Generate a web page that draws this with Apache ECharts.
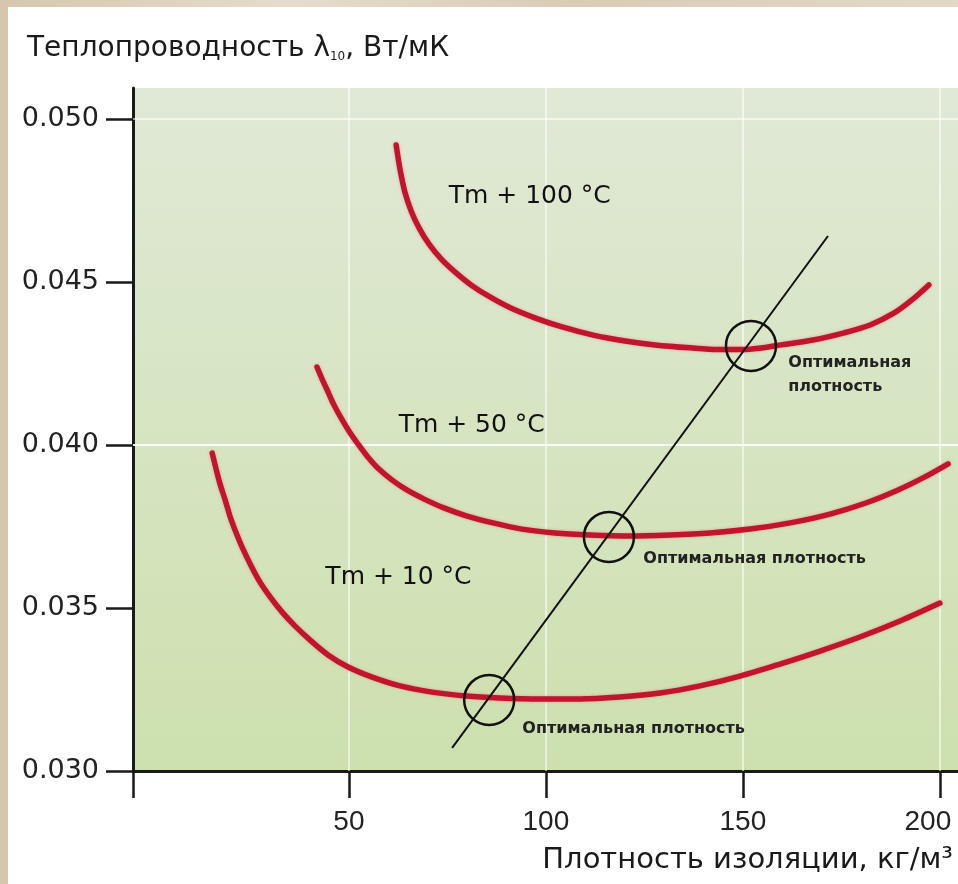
<!DOCTYPE html>
<html>
<head>
<meta charset="utf-8">
<script src="https://cdn.jsdelivr.net/npm/echarts@6/dist/echarts.min.js"></script>
<style>
  html, body { margin: 0; padding: 0; width: 958px; height: 884px; overflow: hidden;
    background: linear-gradient(90deg, #d6c6ae 0%, #e6dccd 30%, #d9cbb6 60%, #e3d8c8 100%); }
  #chart { position: absolute; left: 8px; top: 7px; width: 950px; height: 877px; background: #ffffff; }
</style>
</head>
<body>
<div id="chart"></div>
<script>
// ---- data ----
const xTicks = [50, 100, 150, 200];
const yTicks = [0.030, 0.035, 0.040, 0.045, 0.050];

const curve100X = [62.0, 63.0, 64.2, 65.8, 67.8, 70.3, 73.4, 76.9, 81.0, 85.8, 91.1, 97.2, 104.1, 112.0, 120.1, 127.7, 136.6, 143.7, 151.8, 159.7, 167.8, 175.7, 182.3, 188.4, 192.9, 197.2];
const curve100Y = [0.04920, 0.04844, 0.04776, 0.04718, 0.04666, 0.04617, 0.04571, 0.04531, 0.04491, 0.04454, 0.04420, 0.04390, 0.04362, 0.04337, 0.04319, 0.04307, 0.04298, 0.04293, 0.04294, 0.04307, 0.04322, 0.04344, 0.04368, 0.04405, 0.04445, 0.04491];

const curve50X = [41.9, 43.2, 44.7, 46.2, 48.0, 50.0, 52.3, 54.8, 57.6, 60.9, 64.7, 69.1, 74.1, 80.0, 86.6, 93.9, 102.3, 111.2, 121.3, 131.5, 141.6, 151.8, 162.0, 172.1, 181.2, 189.4, 196.2, 202.1];
const curve50Y = [0.04239, 0.04202, 0.04163, 0.04123, 0.04083, 0.04043, 0.04003, 0.03963, 0.03926, 0.03893, 0.03862, 0.03834, 0.03807, 0.03782, 0.03761, 0.03742, 0.03730, 0.03724, 0.03721, 0.03724, 0.03730, 0.03742, 0.03761, 0.03788, 0.03822, 0.03862, 0.03902, 0.03942];

const curve10X = [15.3, 16.3, 17.3, 18.6, 19.8, 21.3, 23.1, 25.2, 27.4, 30.0, 33.0, 36.3, 40.1, 44.7, 49.8, 55.9, 63.0, 71.1, 79.7, 88.3, 98.5, 108.7, 118.8, 129.0, 139.1, 149.3, 159.4, 169.6, 179.7, 189.9, 200.0];
const curve10Y = [0.03975, 0.03926, 0.03880, 0.03831, 0.03782, 0.03733, 0.03681, 0.03629, 0.03580, 0.03534, 0.03488, 0.03445, 0.03402, 0.03356, 0.03319, 0.03288, 0.03261, 0.03242, 0.03230, 0.03224, 0.03221, 0.03221, 0.03227, 0.03239, 0.03261, 0.03291, 0.03328, 0.03368, 0.03411, 0.03460, 0.03515];

const optimalLineX = [76.2, 171.6];
const optimalLineY = [0.03071, 0.04641];

const optimalX = [85.6, 116.0, 152.05];
const optimalY = [0.03218, 0.03718, 0.04304];

const curveLabels = ['Tm + 100 °C', 'Tm + 50 °C', 'Tm + 10 °C'];
const curveLabelX = [75.2, 62.5, 43.9];
const curveLabelY = [0.04761, 0.04061, 0.03592];

const noteLabels = ['Оптимальная\nплотность', 'Оптимальная плотность', 'Оптимальная плотность'];
const noteX = [161.4, 124.6, 93.9];
const noteY = [0.04215, 0.03650, 0.03129];

const yTitle = 'Теплопроводность λ';
const yTitleSub = '10';
const yTitleTail = ', Вт/мК';
const xTitle = 'Плотность изоляции, кг/м³';

// ---- helpers ----
const zip = (xs, ys) => xs.map((x, i) => [x, ys[i]]);
const FONT = 'DejaVu Sans';
const RED = '#c0152c';

const chart = echarts.init(document.getElementById('chart'), null, { renderer: 'canvas' });

const redLine = (name, xs, ys) => ({
  name, type: 'line', data: zip(xs, ys), smooth: 0.3, showSymbol: false, symbol: 'none',
  lineStyle: { color: RED, width: 5.5, cap: 'round', join: 'round', shadowColor: 'rgba(235,90,110,0.5)', shadowBlur: 3 },
  z: 3, silent: true
});

chart.setOption({
  animation: false,
  backgroundColor: '#ffffff',
  title: [
    {
      text: '{a|' + yTitle + '}{s|' + yTitleSub + '}{a|' + yTitleTail + '}',
      left: 14, top: 23,
      textStyle: {
        fontWeight: 'normal',
        rich: {
          a: { fontFamily: FONT, fontSize: 28, fontWeight: 'normal', color: '#1a1a1a' },
          s: { fontFamily: FONT, fontSize: 12, fontWeight: 'normal', color: '#1a1a1a', verticalAlign: 'bottom', padding: [16, 0, 0, 0] }
        }
      }
    },
    {
      text: xTitle, right: 0, top: 834,
      textStyle: { fontFamily: FONT, fontSize: 29, fontWeight: 'normal', color: '#1a1a1a' }
    }
  ],
  grid: {
    left: 125, top: 81, right: 0, bottom: 113, show: true, borderWidth: 0,
    outerBoundsMode: 'none', containLabel: false,
    backgroundColor: new echarts.graphic.LinearGradient(0, 0, 0, 1, [
      { offset: 0, color: '#e0e9d6' }, { offset: 1, color: '#cde0ae' }
    ])
  },
  xAxis: {
    type: 'value', min: -4.8, max: 204.6,
    axisLine: { show: true, onZero: false, lineStyle: { color: '#1a1a1a', width: 3 } },
    axisTick: { show: true, inside: false, length: 27, customValues: [-4.8].concat(xTicks), lineStyle: { color: '#1a1a1a', width: 2.5 } },
    axisLabel: {
      customValues: xTicks, margin: 37, fontFamily: 'Liberation Sans', fontSize: 28, color: '#222', hideOverlap: false,
      formatter: v => (v === xTicks[xTicks.length - 1] ? '{r|' + v + '}' : String(v)),
      rich: { r: { fontFamily: 'Liberation Sans', fontSize: 28, color: '#222', padding: [0, 24, 0, 0] } }
    },
    splitLine: { show: false }
  },
  yAxis: {
    type: 'value', min: 0.030, max: 0.05095,
    axisLine: { show: true, onZero: false, lineStyle: { color: '#1a1a1a', width: 3 } },
    axisTick: { show: true, inside: false, length: 27, customValues: yTicks, lineStyle: { color: '#1a1a1a', width: 2.5 } },
    axisLabel: { customValues: yTicks, margin: 34, fontFamily: FONT, fontSize: 27, color: '#222', formatter: v => v.toFixed(3) },
    splitLine: { show: false }
  },
  series: [
    {
      name: 'grid', type: 'line', data: [], z: 1, silent: true,
      markLine: {
        silent: true, symbol: 'none', animation: false, z: 1,
        label: { show: false },
        lineStyle: { color: 'rgba(255,255,255,0.55)', width: 2, type: 'solid' },
        data: xTicks.map(v => ({ xAxis: v })).concat(yTicks.slice(1).map(v => ({ yAxis: v })))
      }
    },
    redLine(curveLabels[0], curve100X, curve100Y),
    redLine(curveLabels[1], curve50X, curve50Y),
    redLine(curveLabels[2], curve10X, curve10Y),
    {
      name: 'optimum line', type: 'line', data: zip(optimalLineX, optimalLineY),
      showSymbol: false, symbol: 'none', silent: true, z: 4,
      lineStyle: { color: '#111', width: 2 }
    },
    {
      name: 'optimum', type: 'scatter', data: zip(optimalX, optimalY), symbol: 'circle', symbolSize: 50,
      silent: true, z: 5,
      itemStyle: { color: 'rgba(0,0,0,0)', borderColor: '#111', borderWidth: 2.5, opacity: 1 }
    },
    {
      name: 'curve labels', type: 'scatter', symbolSize: 1, silent: true, z: 6,
      itemStyle: { color: 'rgba(0,0,0,0)', opacity: 1 },
      data: curveLabels.map((t, i) => ({ name: t, value: [curveLabelX[i], curveLabelY[i]] })),
      label: { show: true, position: 'right', distance: 0, formatter: p => p.name, opacity: 1,
        fontFamily: FONT, fontSize: 25, color: '#111' }
    },
    {
      name: 'notes', type: 'scatter', symbolSize: 1, silent: true, z: 6,
      itemStyle: { color: 'rgba(0,0,0,0)', opacity: 1 },
      data: noteLabels.map((t, i) => ({ name: t, value: [noteX[i], noteY[i]] })),
      label: { show: true, position: 'right', distance: 0, formatter: p => p.name, opacity: 1,
        fontFamily: FONT, fontSize: 16, fontWeight: 'bold', lineHeight: 24, color: '#222' }
    }
  ]
});
</script>
</body>
</html>
